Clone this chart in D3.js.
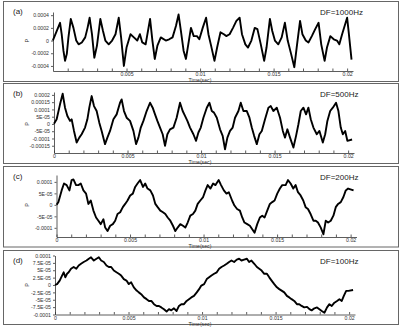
<!DOCTYPE html>
<html>
<head>
<meta charset="utf-8">
<script src="https://cdn.jsdelivr.net/npm/d3@7"></script>
<style>
  body { margin: 0; background: #fff; }
  text { font-family: "Liberation Sans", Arial, sans-serif; }
</style>
</head>
<body>
<div id="chart"></div>
<script>
const width = 403, height = 329;

// time in ms, pressure P in units of 1e-5
const timeA = [0, 0.02, 0.25, 0.48, 0.59, 0.71, 0.82, 0.94, 1.05, 1.21, 1.39, 1.58, 1.74, 1.96, 2.19, 2.35, 2.49, 2.65, 2.81, 2.99, 3.22, 3.40, 3.56, 3.79, 4.02, 4.25, 4.47, 4.63, 4.82, 5.00, 5.27, 5.50, 5.73, 5.91, 6.07, 6.30, 6.60, 6.76, 6.92, 7.10, 7.33, 7.67, 7.90, 8.13, 8.36, 8.54, 8.70, 8.88, 9.04, 9.20, 9.38, 9.57, 9.79, 9.95, 10.18, 10.41, 10.57, 10.75, 10.98, 11.16, 11.39, 11.62, 11.78, 12.01, 12.24, 12.47, 12.69, 12.85, 13.08, 13.26, 13.49, 13.72, 13.90, 14.13, 14.36, 14.52, 14.75, 14.91, 15.09, 15.32, 15.55, 15.77, 15.96, 16.19, 16.41, 16.57, 16.80, 16.96, 17.19, 17.37, 17.60, 17.83, 18.06, 18.24, 18.47, 18.63, 18.86, 19.09, 19.31, 19.47, 19.66, 20.00, 20.10, 20.30];
const pA = [0, 2, 15, 28, 10, -16, -32, -21, 5, 34, 20, 0, -6, -3, 5, 20, 36, 10, -27, -8, 34, 15, 0, -6, 0, 10, 36, 5, -40, -11, 10, 5, 0, 10, -3, -6, 34, 0, -29, -8, 5, 0, 2, 5, 23, 41, 15, -16, -29, -6, 20, 7, 7, 2, 20, 36, 10, -8, -32, -11, 13, 10, 7, 10, 20, 31, 36, 10, -6, -11, 0, 20, 18, -6, -32, -11, 34, 15, 0, -6, 5, 28, 0, -21, -42, -11, 31, 10, 0, -3, 7, 18, 28, -6, -32, -11, 7, 2, 0, -6, 10, 36, 15, -30];

const timeB = [0, 0.18, 0.41, 0.59, 0.75, 0.91, 1.09, 1.20, 1.36, 1.54, 1.72, 1.88, 2.11, 2.27, 2.40, 2.56, 2.72, 2.90, 3.08, 3.24, 3.47, 3.63, 3.81, 4.04, 4.26, 4.49, 4.60, 4.76, 4.94, 5.17, 5.40, 5.58, 5.74, 5.90, 6.08, 6.30, 6.53, 6.71, 6.87, 7.03, 7.21, 7.39, 7.55, 7.71, 7.89, 8.12, 8.34, 8.57, 8.75, 8.91, 9.07, 9.25, 9.48, 9.66, 9.82, 9.98, 10.16, 10.39, 10.57, 10.73, 10.88, 11.07, 11.29, 11.47, 11.63, 11.79, 11.97, 12.15, 12.31, 12.54, 12.70, 12.88, 13.11, 13.29, 13.45, 13.61, 13.79, 13.97, 14.13, 14.35, 14.58, 14.74, 14.92, 15.15, 15.37, 15.56, 15.71, 15.87, 16.05, 16.28, 16.46, 16.62, 16.78, 16.96, 17.14, 17.30, 17.46, 17.64, 17.87, 18.05, 18.28, 18.44, 18.59, 18.78, 18.96, 19.18, 19.34, 19.50, 19.64, 19.80, 19.95, 20.27];
const pB = [0.2, 3.2, 13.5, 20.8, 11.2, 5.5, 2.1, 3.2, -4.8, -12.8, -9.4, -7.1, -2.5, 3.2, 11.2, 19.2, 12.3, 8.9, 0.9, -4.8, -13.9, -9.4, -4.8, 3.2, 6.6, 14.6, 16.9, 8.9, 4.3, 2.1, -4.8, -13.9, -9.4, -2.5, 2.1, 8.9, 14.6, 11.2, 6.6, 2.1, -2.5, -7.1, -15.1, -7.1, -3.7, -2.5, 4.3, 14.6, 8.9, 5.5, 2.1, -2.5, -7.1, -11.6, -5.9, -2.5, 4.3, 11.2, 14.6, 8.9, 7.8, 4.3, -3.7, -8.2, -17.4, -9.4, -4.8, -2.5, 4.3, 8.9, 14.6, 8.9, 8.9, 4.3, -2.5, -8.2, -13.9, -7.1, -4.8, 3.2, 11.2, 12.3, 8.9, 11.2, 4.3, -4.8, -9.4, -3.7, -9.4, -16.2, -8.2, -0.2, 8.9, 11.2, 6.6, 11.2, 3.2, -2.5, -7.1, -4.8, -12.8, -7.1, 2.1, 8.9, 11.2, 14.6, 8.9, -2.5, -7.1, -4.8, -11.6, -10.7];

const timeC = [0.01, 0.13, 0.35, 0.51, 0.69, 0.88, 1.03, 1.15, 1.33, 1.49, 1.65, 1.83, 2.01, 2.17, 2.33, 2.51, 2.69, 2.85, 3.01, 3.19, 3.31, 3.47, 3.65, 3.83, 3.99, 4.15, 4.33, 4.51, 4.67, 4.83, 5.01, 5.19, 5.35, 5.51, 5.69, 5.88, 6.03, 6.19, 6.38, 6.56, 6.72, 6.88, 7.06, 7.24, 7.40, 7.56, 7.74, 7.92, 8.08, 8.24, 8.42, 8.60, 8.76, 8.92, 9.10, 9.28, 9.44, 9.60, 9.78, 9.97, 10.13, 10.28, 10.47, 10.65, 10.81, 11.03, 11.19, 11.38, 11.56, 11.72, 11.94, 12.10, 12.28, 12.47, 12.63, 12.78, 12.97, 13.15, 13.31, 13.47, 13.65, 13.83, 13.99, 14.15, 14.33, 14.51, 14.67, 14.83, 15.01, 15.19, 15.35, 15.58, 15.74, 15.92, 16.10, 16.26, 16.42, 16.60, 16.78, 16.94, 17.10, 17.28, 17.47, 17.63, 17.78, 17.97, 18.15, 18.31, 18.47, 18.65, 18.83, 18.99, 19.15, 19.33, 19.51, 19.67, 19.83, 20.2];
const pC = [0, 1.2, 6.3, 9.3, 8.6, 6.3, 10.8, 11.1, 8.6, 8.6, 9.3, 6.3, 4.9, 0.4, 1.9, -2.5, -5.5, -6.9, -8.4, -6.3, -9.9, -11.4, -9.1, -8.4, -6.9, -4.0, -3.2, -1.0, 0.4, 1.9, 4.1, 4.9, 7.8, 9.3, 10.8, 7.8, 9.3, 7.1, 6.3, 4.1, 0.4, -1.0, -2.5, -3.2, -4.0, -5.5, -6.9, -9.1, -11.4, -9.9, -8.4, -9.1, -9.9, -7.7, -4.7, -4.0, -2.5, 0.4, 1.9, 3.4, 6.3, 8.6, 7.1, 9.3, 8.6, 10.8, 8.6, 6.3, 4.9, 5.5, 1.9, -0.3, -1.8, -2.5, -5.5, -7.7, -8.4, -9.1, -10.6, -12.1, -8.4, -5.5, -4.7, -5.5, -2.5, 0.4, 1.2, 1.9, 4.9, 7.1, 8.6, 8.6, 10.8, 9.3, 7.1, 8.6, 5.5, 4.1, 1.9, -1.0, -1.8, -4.0, -6.9, -6.9, -7.7, -9.9, -12.8, -6.9, -7.7, -6.9, -4.7, -1.0, 0.4, 1.2, 3.4, 6.3, 7.1, 6.3];

const timeD = [0, 0.14, 0.32, 0.48, 0.59, 0.70, 0.82, 0.93, 1.09, 1.27, 1.45, 1.61, 1.77, 1.95, 2.14, 2.30, 2.45, 2.64, 2.82, 2.98, 3.14, 3.32, 3.50, 3.66, 3.82, 4.00, 4.18, 4.34, 4.50, 4.68, 4.86, 5.02, 5.18, 5.36, 5.55, 5.70, 5.86, 6.05, 6.23, 6.39, 6.55, 6.73, 6.91, 7.07, 7.23, 7.41, 7.59, 7.75, 7.91, 8.09, 8.27, 8.43, 8.59, 8.77, 8.95, 9.11, 9.27, 9.45, 9.64, 9.80, 9.95, 10.14, 10.32, 10.48, 10.64, 10.82, 11.00, 11.16, 11.32, 11.50, 11.68, 11.84, 12.00, 12.18, 12.36, 12.52, 12.68, 12.86, 13.05, 13.20, 13.36, 13.55, 13.73, 13.89, 14.05, 14.23, 14.41, 14.57, 14.73, 14.91, 15.09, 15.25, 15.41, 15.59, 15.77, 15.93, 16.09, 16.27, 16.45, 16.61, 16.77, 16.95, 17.14, 17.30, 17.45, 17.64, 17.82, 17.98, 18.14, 18.32, 18.50, 18.66, 18.82, 19.00, 19.18, 19.34, 19.50, 19.64, 19.80, 19.95, 20.27];
const pD = [0, 0.3, 1.5, 3.2, 4.3, 2.6, 3.8, 4.3, 5.5, 6.1, 5.5, 6.6, 7.2, 7.8, 8.3, 8.9, 9.4, 8.3, 8.9, 9.4, 8.3, 7.8, 6.6, 6.1, 6.1, 4.9, 4.3, 3.8, 3.2, 2.0, 1.5, 0.3, 0.9, -0.8, -1.9, -2.5, -3.1, -4.2, -4.8, -5.4, -5.4, -6.5, -7.1, -7.1, -7.6, -8.2, -9.0, -8.2, -8.6, -7.9, -8.8, -7.1, -6.5, -6.5, -5.4, -4.8, -4.2, -3.7, -2.5, -1.4, -0.2, 0.3, 2.0, 2.6, 3.2, 3.8, 4.3, 5.5, 6.1, 6.6, 7.2, 7.8, 8.3, 7.8, 8.6, 8.9, 8.3, 8.6, 8.9, 7.8, 8.3, 7.2, 6.1, 5.5, 4.9, 3.8, 3.8, 2.6, 1.5, 0.3, -0.8, -1.4, -1.9, -2.5, -3.7, -4.2, -4.8, -5.4, -6.5, -6.5, -7.1, -7.6, -7.4, -8.2, -8.6, -7.9, -7.6, -8.2, -8.8, -9.4, -7.6, -6.5, -7.1, -6.0, -5.4, -4.8, -5.4, -3.7, -2.0, -2.0, -1.7];

const xMinorMs = d3.range(1, 21);
const xMajorMs = [0, 5, 10, 15, 20];
const xMajorLabels = ["0", "0.005", "0.01", "0.015", "0.02"];

const yTicksA = [-40, -20, 0, 20, 40];
const yLabelsA = ["-0.0004", "-0.0002", "0", "0.0002", "0.0004"];
const yTicksB = [-15, -10, -5, 0, 5, 10, 15, 20];
const yLabelsB = ["-0.00015", "-0.0001", "-5E-05", "0", "5E-05", "0.0001", "0.00015", "0.0002"];
const yTicksC = [-10, -5, 0, 5, 10];
const yLabelsC = ["-0.0001", "-5E-05", "0", "5E-05", "0.0001"];
const yTicksD = [-10, -7.5, -5, -2.5, 0, 2.5, 5, 7.5, 10];
const yLabelsD = ["-0.0001", "-7.5E-05", "-5E-05", "-2.5E-05", "0", "2.5E-05", "5E-05", "7.5E-05", "0.0001"];

const panelNames = ["(a)", "(b)", "(c)", "(d)"];
const dfLabels = ["DF=1000Hz", "DF=500Hz", "DF=200Hz", "DF=100Hz"];

// layout of each panel (pixels)
const panels = [
  {t: timeA, p: pA, yt: yTicksA, yl: yLabelsA, box: [1.5, 80], x0: 53, yDom: [-48, 45], yRange: [71, 12], zero: false},
  {t: timeB, p: pB, yt: yTicksB, yl: yLabelsB, box: [83.5, 80], x0: 54, yDom: [-20, 22], yRange: [153, 92], zero: true},
  {t: timeC, p: pC, yt: yTicksC, yl: yLabelsC, box: [166.5, 80.5], x0: 56.5, yDom: [-14, 13], yRange: [237, 175], zero: true},
  {t: timeD, p: pD, yt: yTicksD, yl: yLabelsD, box: [250.5, 74], x0: 55, yDom: [-10, 10], yRange: [314.5, 255.5], zero: true}
];

let svg = d3.select("#chart")
  .append("svg")
    .attr("width", width)
    .attr("height", height)
;

panels.forEach(function(cfg, k){
  let g = svg.append("g");

  g.append("rect")
    .attr("x", 3.5).attr("y", cfg.box[0])
    .attr("width", 395).attr("height", cfg.box[1])
    .attr("fill", "none").attr("stroke", "#666").attr("stroke-width", 1);

  let x = d3.scaleLinear().domain([0, 20.4]).range([cfg.x0, cfg.x0 + 300]);
  let y = d3.scaleLinear().domain(cfg.yDom).range(cfg.yRange);
  let bottom = cfg.yRange[0];

  // x axis: minor ticks point up, labels only on the majors
  let xAxis = d3.axisBottom(x)
    .tickValues(xMinorMs.concat(cfg.zero ? [0] : []))
    .tickSizeInner(-2.5).tickSizeOuter(0).tickPadding(1.3)
    .tickFormat(function(d){
      let i = xMajorMs.indexOf(d);
      return i >= 0 ? xMajorLabels[i] : "";
    });
  let gx = g.append("g").attr("transform", "translate(0," + bottom + ")").call(xAxis);

  // y axis
  let yAxis = d3.axisLeft(y)
    .tickValues(cfg.yt)
    .tickSizeInner(2).tickSizeOuter(0).tickPadding(2)
    .tickFormat(function(d, i){ return cfg.yl[i]; });
  let gy = g.append("g").attr("transform", "translate(" + cfg.x0 + ",0)").call(yAxis);

  [gx, gy].forEach(function(a){
    a.attr("font-family", null).attr("font-size", null);
    a.selectAll("path,line").attr("stroke", "#333").attr("stroke-width", 0.8);
    a.selectAll("text").style("font-size", "5.2px").attr("fill", "#333");
  });

  let line = d3.line()
    .x(function(d, i){ return x(cfg.t[i]); })
    .y(function(d){ return y(d); });

  g.append("path")
    .datum(cfg.p.slice(0, cfg.t.length))
    .attr("d", line)
    .attr("fill", "none")
    .attr("stroke", "#000")
    .attr("stroke-width", 1.9)
    .attr("stroke-linejoin", "round");

  g.append("text")
    .attr("x", 13).attr("y", cfg.box[0] + 12)
    .style("font-size", "8px").attr("fill", "#222")
    .text(panelNames[k]);

  g.append("text")
    .attr("x", 320).attr("y", cfg.box[0] + 13)
    .style("font-size", "8px").attr("fill", "#222")
    .text(dfLabels[k]);

  g.append("text")
    .attr("x", 200).attr("y", bottom + 11)
    .attr("text-anchor", "middle")
    .style("font-size", "5.2px").attr("fill", "#333")
    .text("Time(sec)");

  g.append("text")
    .attr("transform", "translate(29," + y(0) + ") rotate(-90)")
    .attr("text-anchor", "middle")
    .style("font-size", "5.5px").attr("fill", "#333")
    .text("P");
});
</script>
</body>
</html>
